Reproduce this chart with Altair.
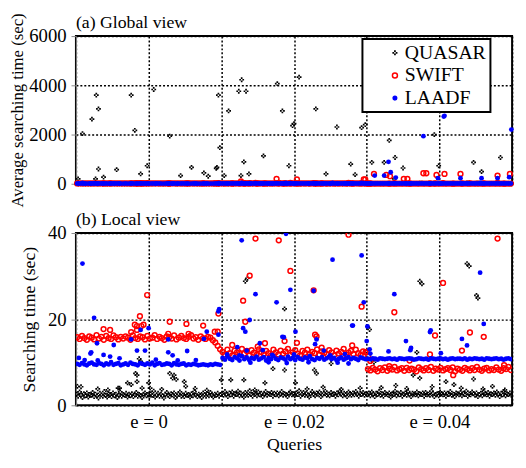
import altair as alt
import pandas as pd

series_names = ["QUASAR", "SWIFT", "LAADF"]
stroke_colors = ["transparent", "#ff0000", "transparent"]
fill_colors = ["#000000", "transparent", "#0000ff"]
group_labels = ["e = 0", "e = 0.02", "e = 0.04"]
queries_per_group = 200

# dense "band" values per group (e = 0, 0.02, 0.04)
quasar_band = [
    [2.6,2.1,3.1,2.4,1.8,2.7,2.2,2.9,1.9,2.5,2.3,3.0,2.0,2.6,2.2,1.7,2.8,2.4,2.1,3.2,2.3,1.9,2.7,2.5,2.0,2.9,2.2,2.6,1.8,2.4,
     3.1,2.1,2.5,2.3,2.8,1.9,2.6,2.2,2.7,2.0,2.4,3.0,2.1,2.5,2.3,1.8,2.6,2.9,2.2,2.5,2.0,2.7,2.3,3.3,1.9,2.4,2.8,2.1,2.6,2.2,
     1.7,2.5,3.0,2.3,2.0,2.7,2.4,2.9,1.8,2.2,2.6,3.1,2.1,2.4,2.0,2.8,2.3,2.5,1.9,2.7,2.2,3.2,2.4,2.0,2.6,2.3,1.8,2.9,2.5,2.1,
     2.7,2.2,3.0,2.4,1.9,2.6,2.3,2.8,2.1,2.5],
    [2.8,2.3,3.2,2.5,2.0,2.9,2.4,3.1,2.1,2.7,2.5,3.3,2.2,2.8,2.4,1.9,3.0,2.6,2.3,3.4,2.5,2.1,2.9,2.7,2.2,3.1,2.4,2.8,2.0,2.6,
     3.2,2.3,2.7,2.5,3.0,2.1,2.8,2.4,2.9,2.2,2.6,3.2,2.3,2.7,2.5,2.0,2.8,3.1,2.4,2.7,2.2,2.9,2.5,3.4,2.1,2.6,3.0,2.3,2.8,2.4,
     1.9,2.7,3.2,2.5,2.2,2.9,2.6,3.1,2.0,2.4,2.8,3.3,2.3,2.6,2.2,3.0,2.5,2.7,2.1,2.9,2.4,3.3,2.6,2.2,2.8,2.5,2.0,3.1,2.7,2.3,
     2.9,2.4,3.2,2.6,2.1,2.8,2.5,3.0,2.3,2.7],
    [2.4,2.9,2.2,3.1,2.6,2.0,2.8,2.5,3.2,2.3,2.7,2.1,3.0,2.6,2.4,2.9,1.9,2.7,2.5,3.3,2.2,2.8,2.4,3.0,2.1,2.6,2.9,2.3,3.2,2.5,
     2.0,2.8,2.6,2.4,3.1,2.2,2.7,2.5,2.9,2.1,3.0,2.4,2.6,2.3,3.3,2.8,2.0,2.5,2.7,2.2,3.1,2.6,2.4,2.9,2.1,2.8,2.5,3.2,2.3,2.6,
     2.0,2.9,2.7,2.4,3.0,2.2,2.8,2.5,3.3,2.1,2.6,2.4,3.1,2.7,2.3,2.9,2.0,2.5,2.8,2.2,3.2,2.6,2.4,3.0,2.1,2.7,2.5,2.9,2.3,3.1,
     2.6,2.0,2.8,2.4,3.2,2.2,2.7,2.5,2.9,2.3],
]
swift_band = [
    [15.8,15.4,16.1,15.6,15.2,16.0,15.7,15.3,16.3,15.5,15.9,15.2,16.1,15.6,15.4,16.2,15.8,15.3,15.9,15.5,
     16.0,15.7,15.2,16.2,15.6,15.4,16.0,15.8,15.3,16.1,15.5,15.7,16.3,15.4,15.9,15.6,15.2,16.0,15.8,15.5,
     16.2,15.3,15.7,16.1,15.6,15.4,15.9,16.3,15.5,15.8,15.2,16.0,15.6,15.4,15.9,15.7,15.1,14.6,13.8,13.0],
    [12.4,11.8,12.9,12.1,11.6,12.7,12.3,11.9,13.1,12.0,12.6,11.5,12.8,12.2,11.7,13.0,12.4,11.9,12.6,12.1,
     11.6,12.9,12.3,11.8,12.7,12.0,12.5,13.1,11.7,12.3,12.8,12.0,11.6,12.6,12.2,12.9,11.8,12.4,12.1,13.0,
     11.7,12.5,12.2,11.9,12.8,12.3,11.6,12.7,12.0,12.4,13.1,11.8,12.2,12.6,11.9,12.9,12.1,11.7,12.5,12.3],
    [8.4,8.1,8.7,8.3,7.9,8.6,8.2,8.8,8.0,8.5,8.3,8.9,8.1,8.4,8.6,8.0,8.7,8.2,8.5,8.3,
     7.9,8.8,8.4,8.1,8.6,8.2,8.9,8.0,8.5,8.3,8.7,8.1,8.4,8.6,8.2,8.8,7.9,8.5,8.3,8.0,
     8.7,8.4,8.1,8.6,8.2,8.9,8.3,8.0,8.5,8.7,8.1,8.4,8.2,8.8,8.3,8.0,8.6,8.4,8.9,8.2],
]
laadf_band = [
    [9.6,9.4,9.8,9.5,9.3,9.7,9.9,9.5,9.4,9.8,9.6,9.3,9.7,9.5,10.0,9.4,9.6,9.8,9.3,9.5,
     9.7,9.4,9.9,9.6,9.5,9.3,9.8,9.6,9.4,9.7,9.5,9.9,9.3,9.6,9.8,9.4,9.5,9.7,9.6,9.3,
     9.8,9.5,9.4,9.6,9.7,9.3,9.5,9.4,9.6,9.5,9.3,9.4,9.5,9.4,9.3,9.5,9.4,9.6,9.5,9.4],
    [11.0,10.6,11.3,10.8,10.5,11.2,10.9,10.4,11.4,10.7,11.1,10.5,11.0,10.8,11.3,10.6,10.9,11.2,10.4,11.0,
     10.7,11.4,10.8,10.5,11.1,10.9,10.6,11.3,10.7,11.0,10.5,11.2,10.8,10.6,11.1,10.9,11.4,10.7,10.5,11.0,
     10.8,11.2,10.6,10.9,11.3,10.7,11.0,10.5,10.8,11.1,10.6,10.9,11.2,10.7,11.0,10.8,10.5,11.1,10.9,10.7],
    [10.8,10.7,10.9,10.8,10.6,10.9,10.8,10.7,10.8,10.9,10.7,10.8,10.6,10.9,10.8,10.7,10.8,10.9,10.8,10.6,
     10.7,10.9,10.8,10.7,10.8,10.6,10.9,10.8,10.7,10.8,10.9,10.7,10.8,10.6,10.8,10.9,10.7,10.8,10.8,10.7,
     10.9,10.6,10.8,10.7,10.9,10.8,10.7,10.8,10.6,10.9,10.8,10.7,10.8,10.9,10.7,10.8,10.6,10.8,10.9,10.7],
]

# scattered points (query, seconds)
quasar_outliers = [
    (2,4.4),(7,4.3),(30,3.8),(44,3.6),(58,4.0),(60,4.0),(71,5.2),(76,4.8),(82,7.4),(84,5.5),(84,7.0),(87,10.8),
    (89,10.2),(91,4.0),(100,5.2),(102,4.0),(118,3.7),(129,7.4),(133,6.3),(135,7.0),(138,6.0),(149,5.5),(151,4.4),
    (164,3.9),(180,3.5),(200,5.9),(213,5.9),(231,5.9),(233,28.8),(236,29.5),(246,3.6),(260,5.2),(271,8.5),(287,8.2),
    (287,22.4),(302,5.2),(318,3.8),(328,8.2),(331,7.4),(340,4.2),(351,9.7),(365,3.7),(391,4.0),(401,18.3),(404,17.6),
    (407,10.4),(410,10.0),(420,4.1),(440,4.6),(455,3.9),(464,7.0),(469,12.3),(473,6.3),(473,28.8),(476,28.2),(490,4.3),
    (509,5.5),(520,4.8),(530,4.0),(538,32.9),(541,32.3),(547,6.1),(551,25.5),(553,24.9),(560,3.8),(573,4.4),(590,3.6),
    (3,200),(9,2040),(22,2627),(27,200),(28,3600),(31,3040),(31,600),(38,267),(56,573),(76,3600),(81,2173),(89,400),
    (98,733),(107,3830),(129,1933),(144,333),(159,667),(176,440),(182,307),(193,627),(194,667),(196,3600),(198,1467),
    (204,333),(210,2960),(224,3760),(227,333),(228,4227),(231,893),(234,3760),(238,400),(258,1133),(277,4067),(284,2960),
    (293,733),(298,2360),(300,2440),(307,4333),(330,3040),(344,400),(359,2307),(378,800),(384,373),(393,2280),(398,2400),
    (407,867),(424,867),(431,1760),(438,200),(439,1067),(450,640),(493,2000),(499,733),(547,867),(558,493),(584,1067),
]
swift_outliers = [
    (38,17.7),(47,17.5),(76,17.0),(81,18.7),(84,17.5),(84,18.4),(88,20.7),(90,18.4),(93,18.7),(98,25.6),(127,16.6),
    (129,19.4),(152,18.9),(155,16.6),(175,18.5),(191,17.1),(195,17.1),(196,21.3),
    (215,14.0),(227,93),(230,24.3),(233,19.4),(239,30.1),(247,38.7),(250,13.6),(260,14.4),(276,200),(279,38.3),
    (287,14.9),(295,31.2),(304,173),(304,14.5),(327,26.7),(329,16.4),(331,16.0),(338,13.4),(375,39.6),(380,13.9),
    (393,22.9),(396,173),(398,173),(400,12.4),
    (402,11.4),(405,10.3),(410,400),(427,360),(431,9.1),(432,307),(438,21.6),(451,200),(456,200),(459,10.4),(478,427),
    (482,427),(487,11.8),(494,16.2),(496,360),(505,28.4),(507,400),(519,7.0),(529,400),(531,12.7),(542,16.9),
    (561,15.9),(580,38.7),(580,333),(589,9.3),(597,400),
]
laadf_outliers = [
    (4,11.0),(9,32.9),(12,10.5),(20,12.0),(21,12.3),(25,20.3),(29,14.4),(30,10.4),(38,11.7),(47,11.3),(52,14.0),
    (60,10.9),(76,15.3),(84,12.7),(89,17.5),(95,12.7),(100,17.9),(110,10.6),(127,15.3),(127,12.3),(133,11.6),
    (140,10.4),(153,12.6),(165,10.5),(176,15.4),(180,17.1),(196,21.8),(197,22.3),(196,16.4),
    (208,11.8),(222,13.5),(225,11.6),(228,38.3),(230,17.9),(233,17.1),(235,12.7),(239,19.8),(240,9.9),(247,25.8),
    (253,14.4),(257,12.8),(265,10.0),(270,11.7),(276,23.9),(284,15.9),(286,15.8),(289,39.8),(290,9.8),(295,26.8),
    (300,11.8),(302,17.1),(320,10.0),(327,26.6),(329,14.2),(331,15.3),(341,12.7),(350,11.6),(353,33.8),(360,9.9),
    (370,11.9),(375,9.7),(380,18.5),(381,18.5),(393,34.8),(396,23.9),(400,14.9),
    (401,18.3),(404,13.0),(405,12.0),(411,333),(424,333),(430,12.5),(430,893),(433,467),(438,25.8),(440,250),
    (454,14.9),(460,12.8),(461,13.3),(478,1933),(487,17.0),(488,17.4),(498,227),(502,12.1),(506,2730),(507,2760),
    (529,227),(531,15.4),(538,13.9),(556,30.8),(558,227),(561,18.9),(580,227),(596,267),(599,2200),
]

quasar_path = ("M-0.35,-1h0.7v0.7h-0.7z M-1,-0.35h0.7v0.7h-0.7z "
               "M0.3,-0.35h0.7v0.7h-0.7z M-0.35,0.3h0.7v0.7h-0.7z")
shapes = [quasar_path, "circle", "circle"]

rows = []
for name, bands, outs in [("QUASAR", quasar_band, quasar_outliers),
                          ("SWIFT", swift_band, swift_outliers),
                          ("LAADF", laadf_band, laadf_outliers)]:
    for g, vals in enumerate(bands):
        n = len(vals)
        for i, v in enumerate(vals):
            rows.append({"series": name, "query": g * queries_per_group + (i + 0.5) * queries_per_group / n, "time": v})
    for q, v in outs:
        rows.append({"series": name, "query": q, "time": v})
df = pd.DataFrame(rows)
df["idx"] = range(len(df))

n_groups = len(group_labels)
x_max = n_groups * queries_per_group
grid_vals = list(range(0, x_max + 1, queries_per_group // 2))
centers = [g * queries_per_group + queries_per_group // 2 for g in range(n_groups)]
label_expr = "".join(f"datum.value == {c} ? '{l}' : " for c, l in zip(centers, group_labels)) + "''"

xscale = alt.Scale(domain=[0, x_max], nice=False, zero=False)

PW = 443
leg = alt.Legend(title=".", titleOrient="left", titleFontSize=8, titleColor="white", titlePadding=16,
                 orient="none", legendX=291, legendY=3, direction="vertical",
                 labelFont="Liberation Serif", labelFontSize=20, labelColor="black",
                 padding=4, labelOffset=0, rowPadding=3, symbolSize=26, symbolStrokeWidth=1.5,
                 labelExpr="datum.label + '           '")

def encodings(legend):
    kw = {"legend": legend}
    return dict(
        color=alt.Color("series:N", scale=alt.Scale(domain=series_names, range=stroke_colors), **kw),
        fill=alt.Fill("series:N", scale=alt.Scale(domain=series_names, range=fill_colors), **kw),
        shape=alt.Shape("series:N", scale=alt.Scale(domain=series_names, range=shapes), **kw),
        order=alt.Order("idx:Q"),
    )

top = alt.Chart(df).mark_point(filled=False, opacity=1, strokeWidth=1.5, size=24).encode(
    x=alt.X("query:Q", scale=xscale,
            axis=alt.Axis(values=grid_vals, labels=False, ticks=False, domain=False, title=None, minExtent=0)),
    y=alt.Y("time:Q", scale=alt.Scale(domain=[0, 6000], nice=False),
            axis=alt.Axis(values=[0, 2000, 4000, 6000], format="d", title="Average searching time (sec)",
                          titleFontSize=17, titlePadding=2, labelPadding=5)),
    **encodings(leg),
).properties(width=PW, height=150,
             title=alt.TitleParams("(a) Global view", anchor="start", frame="group", offset=-19))

bottom = alt.Chart(df).mark_point(filled=False, opacity=1, strokeWidth=1.5, size=24, clip=True).encode(
    x=alt.X("query:Q", scale=xscale,
            axis=alt.Axis(values=grid_vals, labelExpr=label_expr, ticks=False, domain=False,
                          title="Queries", labelPadding=8, titlePadding=4, labelFlush=False)),
    y=alt.Y("time:Q", scale=alt.Scale(domain=[0, 40], nice=False),
            axis=alt.Axis(values=[0, 20, 40], format="d", title="Searching time (sec)",
                          titlePadding=9, labelPadding=5)),
    **encodings(None),
).properties(width=PW, height=175,
             title=alt.TitleParams("(b) Local view", anchor="start", frame="group", offset=-5))

chart = alt.vconcat(top, bottom, spacing=50, bounds="flush").resolve_legend(
    color="independent", fill="independent", shape="independent"
).properties(
    padding={"left": 0, "top": 0, "right": 0, "bottom": 0}
).configure_view(
    stroke="black", strokeWidth=2
).configure_axis(
    gridColor="black", gridDash=[2, 2], gridWidth=1.5, gridOpacity=1,
    labelFont="Liberation Serif", labelFontSize=19, labelColor="black",
    titleFont="Liberation Serif", titleFontSize=18, titleFontWeight="normal", titleColor="black",
).configure_title(
    font="Liberation Serif", fontSize=18, fontWeight="normal", color="black"
).configure_legend(
    strokeColor="black", strokeWidth=2, fillColor="white"
)

chart.save("out.html", embed_options={"renderer": "svg", "actions": False})
